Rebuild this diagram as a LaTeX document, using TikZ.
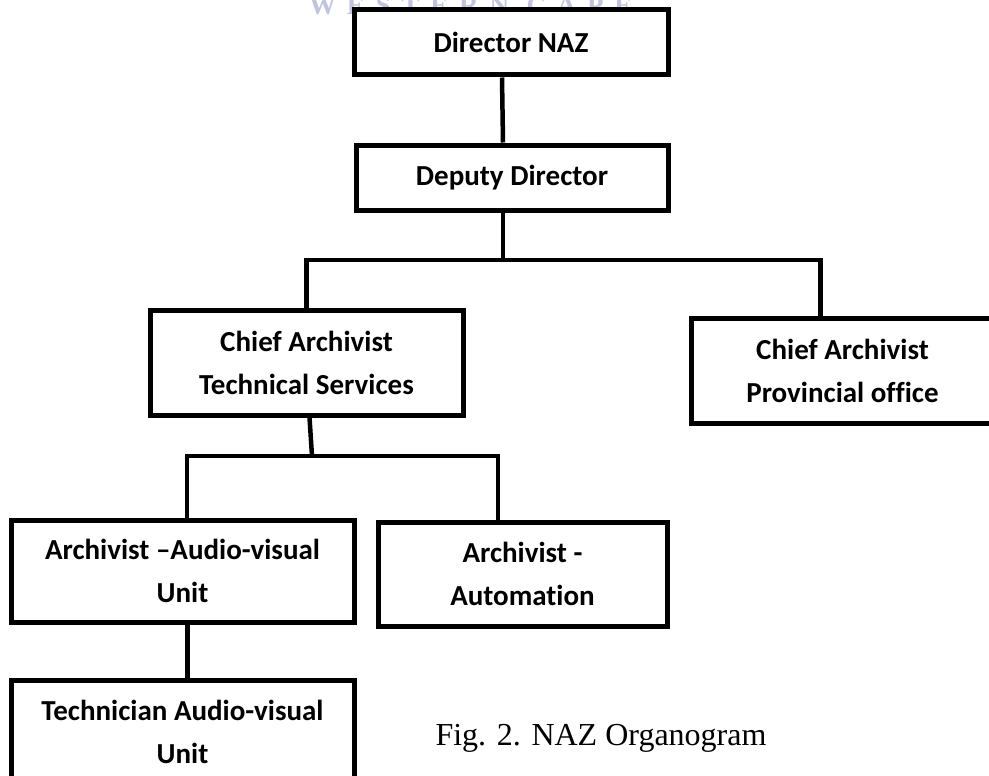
\documentclass[tikz,border=0pt]{standalone}
\usepackage{fontspec}
\setmainfont{Carlito}[Ligatures=NoCommon]
\newfontfamily\captionserif{Liberation Serif}
\newfontfamily\markserif[LetterSpace=40]{Liberation Serif}
\usetikzlibrary{positioning}
\definecolor{capegray}{RGB}{192,196,220}

\begin{document}
\begin{tikzpicture}[x=1pt, y=-1pt,
    orgbox/.style={draw, line width=5pt, fill=white, align=center, inner sep=0pt,
        font=\bfseries\fontsize{29}{43}\selectfont},
    link/.style={line width=4.5pt}]
    \useasboundingbox (0,0) rectangle (989,776);

    % watermark cut by the top edge
    \node[text=capegray, font=\markserif\bfseries\fontsize{27}{27}\selectfont, anchor=base west, inner sep=0pt] (mark) at (309,15) {WESTERN CAPE};

    % boxes of the organogram
    \node[orgbox, minimum width=314pt, minimum height=65pt] (dir) at (511,42.5) {Director NAZ};
    \node[orgbox, minimum width=312pt, minimum height=65pt] (dep) at (512,177.5) {Deputy Director};
    \node[orgbox, minimum width=313pt, minimum height=105pt] (tech) at (306.5,362.5) {Chief Archivist\\Technical Services};
    \node[orgbox, minimum width=303pt, minimum height=105pt] (prov) at (842.5,370.5) {Chief Archivist\\Provincial office};
    \node[orgbox, minimum width=343pt, minimum height=102pt] (av) at (182.5,571) {Archivist –Audio-visual\\Unit};
    \node[orgbox, minimum width=289pt, minimum height=104pt] (auto) at (522.5,574) {Archivist -\\Automation};
    \node[orgbox, minimum width=343pt, minimum height=103pt] (avtech) at (182.5,731.5) {Technician Audio-visual\\Unit};

    % connectors
    \coordinate (bus1) at (503,260);
    \coordinate (bus2) at (312,456);
    \draw[link] ([xshift=-9pt]dir.south) -- ([xshift=-9pt]dep.north);
    \draw[link] ([xshift=-9pt]dep.south) -- (bus1);
    \draw[link] (tech.north) |- (bus1) -| ([xshift=-22pt]prov.north);
    \draw[link] ([xshift=3pt]tech.south) -- (bus2);
    \draw[link] ([xshift=4.5pt]av.north) |- (bus2) -| ([xshift=-24.5pt]auto.north);
    \draw[link] ([xshift=5pt]av.south) -- ([xshift=5pt]avtech.north);

    \node[font=\captionserif\fontsize{32}{32}\selectfont] (cap) at (601,738) {Fig. 2. NAZ Organogram};
\end{tikzpicture}
\end{document}
